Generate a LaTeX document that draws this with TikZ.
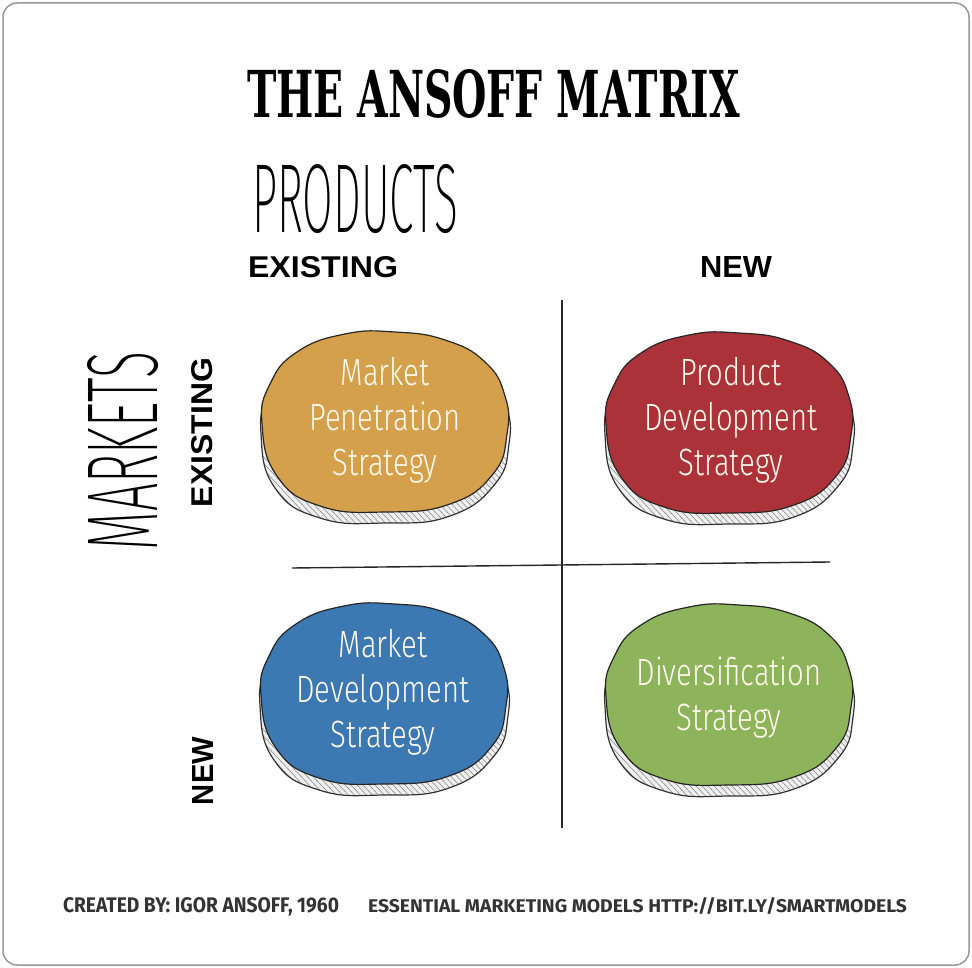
\documentclass[tikz,border=0pt]{standalone}
\usepackage{fontspec}
\usepackage{graphicx}
\setmainfont{DejaVu Sans}
\newfontfamily\titlefont{DejaVu Serif}
\newfontfamily\labfont{Liberation Sans}
\newfontfamily\footfont{Fira Sans}
\IfFontExistsTF{Fira Sans ExtraLight}{\newfontfamily\thinfont{Fira Sans ExtraLight}}{\IfFontExistsTF{Fira Sans Light}{\newfontfamily\thinfont{Fira Sans Light}}{\newfontfamily\thinfont{DejaVu Sans}}}
\IfFontExistsTF{Fira Sans Light}{\newfontfamily\blobfont{Fira Sans Light}[FakeStretch=0.77]}{\newfontfamily\blobfont{Fira Sans}[FakeStretch=0.77]}
\definecolor{orangeB}{HTML}{D5A04C}
\definecolor{redB}{HTML}{AC3239}
\definecolor{blueB}{HTML}{3C78B1}
\definecolor{greenB}{HTML}{8DB45B}
\definecolor{diskC}{HTML}{F0F0F0}
\definecolor{footC}{HTML}{333333}
\definecolor{blobT}{HTML}{FFFAEE}
\tikzset{
  lbl/.style={inner sep=0pt, outer sep=0pt},
  blobtext/.style={text=blobT, font=\blobfont\fontsize{38}{45}\selectfont, align=center, inner sep=0pt},
  axisline/.style={line width=1.4pt, draw=black!85},
  diskstyle/.style={draw=black!80, line width=1.2pt},
  hatchline/.style={draw=black!45, line width=0.6pt},
  blobtop/.style={draw=black!85, line width=1.2pt},
}
\newcommand{\drawblob}[3]{%
  \begin{scope}[shift={(#1,#2)}]
    \fill[diskC] plot[smooth cycle, tension=0.8] coordinates {(-124,10) (-116,-30) (-89,-62) (-40,-80) (10,-82) (60,-74) (101,-52) (121,-18) (124,20) (110,60) (65,92) (0,99) (-65,94) (-110,64)};
    \begin{scope}
      \clip plot[smooth cycle, tension=0.8] coordinates {(-124,10) (-116,-30) (-89,-62) (-40,-80) (10,-82) (60,-74) (101,-52) (121,-18) (124,20) (110,60) (65,92) (0,99) (-65,94) (-110,64)};
      \foreach \i in {-190,-184,...,130} {\draw[hatchline] (\i,30) -- ++(70,75);}
    \end{scope}
    \draw[diskstyle] plot[smooth cycle, tension=0.8] coordinates {(-124,10) (-116,-30) (-89,-62) (-40,-80) (10,-82) (60,-74) (101,-52) (121,-18) (124,20) (110,60) (65,92) (0,99) (-65,94) (-110,64)};
    \filldraw[blobtop, fill=#3] plot[smooth cycle, tension=0.8] coordinates {(-123,0) (-115,-40) (-88,-72) (-40,-90) (10,-92) (60,-84) (100,-62) (120,-28) (122,10) (108,50) (65,80) (0,88) (-65,82) (-108,52)};
  \end{scope}}
\begin{document}
\begin{tikzpicture}[x=1pt,y=-1pt]
\useasboundingbox (0,0) rectangle (972,968);
\filldraw[fill=white, draw=black!40, line width=1.5pt, rounded corners=14pt] (3,3) rectangle (969,965);

\node[lbl, anchor=base west] (title) at (247,118) {\resizebox{493pt}{48pt}{\titlefont\bfseries THE ANSOFF MATRIX}};
\node[lbl, anchor=base west] (products) at (252,233) {\resizebox{206pt}{68pt}{\thinfont PRODUCTS}};
\node[lbl, anchor=base west] (pexist) at (248,278) {\resizebox{150pt}{21pt}{\labfont\bfseries EXISTING}};
\node[lbl, anchor=base west] (pnew) at (700,278) {\resizebox{72pt}{21pt}{\labfont\bfseries NEW}};
\node[lbl, rotate=90] (markets) at (123,451) {\resizebox{198pt}{70pt}{\thinfont MARKETS}};
\node[lbl, rotate=90] (mexist) at (202.5,432.5) {\resizebox{149pt}{21pt}{\labfont\bfseries EXISTING}};
\node[lbl, rotate=90] (mnew) at (202.5,771) {\resizebox{68pt}{21pt}{\labfont\bfseries NEW}};

\coordinate (vtop) at (562,300);
\coordinate (vbot) at (562,828);
\coordinate (hleft) at (292,568);
\coordinate (hright) at (830,562);
\draw[axisline] (vtop) -- (vbot);
\draw[axisline] (hleft) -- (hright);

\drawblob{385}{424}{orangeB}
\drawblob{729}{425}{redB}
\drawblob{384}{696}{blueB}
\drawblob{729}{697}{greenB}

\node[blobtext] (mp) at (385,420) {Market\\Penetration\\Strategy};
\node[blobtext] (pd) at (731,420) {Product\\Development\\Strategy};
\node[blobtext] (md) at (383,692) {Market\\Development\\Strategy};
\node[blobtext] (dv) at (729,698) {Diversification\\Strategy};

\node[lbl, anchor=base west, text=footC] (foot1) at (63,912) {\resizebox{276pt}{15pt}{\footfont\bfseries CREATED BY: IGOR ANSOFF, 1960}};
\node[lbl, anchor=base west, text=footC] (foot2) at (368,912) {\resizebox{539pt}{15pt}{\footfont\bfseries ESSENTIAL MARKETING MODELS HTTP://BIT.LY/SMARTMODELS}};
\end{tikzpicture}
\end{document}
